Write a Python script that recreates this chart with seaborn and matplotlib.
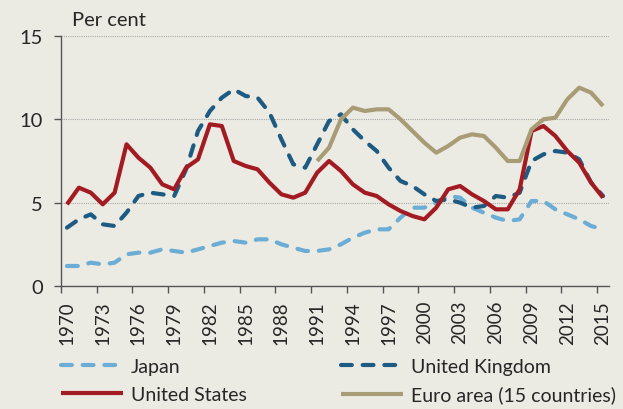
import matplotlib

matplotlib.use("Agg")
import matplotlib.pyplot as plt
import numpy as np
import seaborn as sns

years = list(range(1970, 2016))

japan = [1.2, 1.2, 1.4, 1.3, 1.4, 1.9, 2.0, 2.0, 2.2, 2.1,
         2.0, 2.2, 2.4, 2.6, 2.7, 2.6, 2.8, 2.8, 2.5, 2.3,
         2.1, 2.1, 2.2, 2.5, 2.9, 3.2, 3.4, 3.4, 4.1, 4.7,
         4.7, 5.0, 5.4, 5.3, 4.7, 4.4, 4.1, 3.9, 4.0, 5.1,
         5.1, 4.6, 4.3, 4.0, 3.6, 3.4]
united_kingdom = [3.5, 4.0, 4.3, 3.7, 3.6, 4.4, 5.4, 5.6, 5.5, 5.4,
                  7.0, 9.3, 10.5, 11.3, 11.8, 11.4, 11.3, 10.4, 8.8, 7.3,
                  7.1, 8.5, 9.9, 10.3, 9.4, 8.7, 8.1, 7.1, 6.3, 6.0,
                  5.5, 5.1, 5.2, 5.0, 4.7, 4.8, 5.4, 5.3, 5.6, 7.5,
                  7.9, 8.1, 8.0, 7.6, 6.2, 5.4]
united_states = [4.9, 5.9, 5.6, 4.9, 5.6, 8.5, 7.7, 7.1, 6.1, 5.8,
                 7.1, 7.6, 9.7, 9.6, 7.5, 7.2, 7.0, 6.2, 5.5, 5.3,
                 5.6, 6.8, 7.5, 6.9, 6.1, 5.6, 5.4, 4.9, 4.5, 4.2,
                 4.0, 4.7, 5.8, 6.0, 5.5, 5.1, 4.6, 4.6, 5.8, 9.3,
                 9.6, 9.0, 8.1, 7.4, 6.2, 5.3]
euro_years = list(range(1991, 2016))
euro_area = [7.5, 8.3, 10.0, 10.7, 10.5, 10.6, 10.6, 10.0, 9.3,
             8.6, 8.0, 8.4, 8.9, 9.1, 9.0, 8.3, 7.5, 7.5, 9.4,
             10.0, 10.1, 11.2, 11.9, 11.6, 10.8]

BG = "#ecebe3"
INK = "#262626"
FONT = ["Lato", "DejaVu Sans"]

sns.set_theme(style="white")
plt.rcParams["font.family"] = FONT
plt.rcParams["font.size"] = 14
plt.rcParams["text.color"] = INK
plt.rcParams["xtick.color"] = INK
plt.rcParams["ytick.color"] = INK

dash = (0, (2.6, 2.6))
series = [
    ("Japan", years, japan, "#6cadd6", dash),
    ("United Kingdom", years, united_kingdom, "#1e5b82", dash),
    ("United States", years, united_states, "#a31b22", "-"),
    ("Euro area (15 countries)", euro_years, euro_area, "#a89c76", "-"),
]

fig = plt.figure(figsize=(6.23, 4.10), dpi=100, facecolor=BG)
ax = fig.add_axes([61 / 623, 1 - 287 / 410, 548 / 623, 250 / 410])
ax.set_facecolor(BG)

handles = {}
for name, xs, ys, color, ls in series:
    sns.lineplot(x=xs, y=ys, ax=ax, color=color, linewidth=3.0,
                 linestyle=ls, dash_capstyle="round",
                 solid_capstyle="butt", label=name, legend=False)
    handles[name] = ax.lines[-1]

ax.set_xlim(1969.5, 2015.5)
ax.set_ylim(0, 15)
ax.set_yticks([0, 5, 10, 15])
ax.yaxis.grid(True, linestyle=(0, (1, 1)), color="#a8a8a8", linewidth=0.8)
ax.set_axisbelow(True)

# ticks sit between years, labels sit on the years
ax.set_xticks(np.arange(1969.5, 2015, 3))
ax.set_xticklabels([])
ax.set_xticks(years[::3], minor=True)
ax.set_xticklabels([str(y) for y in years[::3]], minor=True)
ax.tick_params(axis="x", which="major", direction="out", length=5,
               width=1, color="#555555", bottom=True)
ax.tick_params(axis="x", which="minor", length=0, pad=10, labelrotation=90,
               labelsize=13.5, bottom=True)
ax.tick_params(axis="y", direction="out", length=5, width=1,
               color="#555555", pad=8, labelsize=14.5, left=True)

for side in ["top", "right"]:
    ax.spines[side].set_visible(False)
for side in ["left", "bottom"]:
    ax.spines[side].set_color("#555555")
    ax.spines[side].set_linewidth(1.0)

fig.text(72 / 623, 1 - 20 / 410, "Per cent", ha="left", va="center",
         fontsize=14.5)

order = ["Japan", "United States", "United Kingdom", "Euro area (15 countries)"]
fig.legend([handles[n] for n in order], order, ncol=2,
           loc="upper left", bbox_to_anchor=(61 / 623, 1 - 359 / 410),
           frameon=False, borderpad=0, borderaxespad=0,
           handlelength=3.2, handletextpad=0.4, columnspacing=4.85,
           labelspacing=0.55, fontsize=14)

fig.savefig("out.png", dpi=100, facecolor=BG)
